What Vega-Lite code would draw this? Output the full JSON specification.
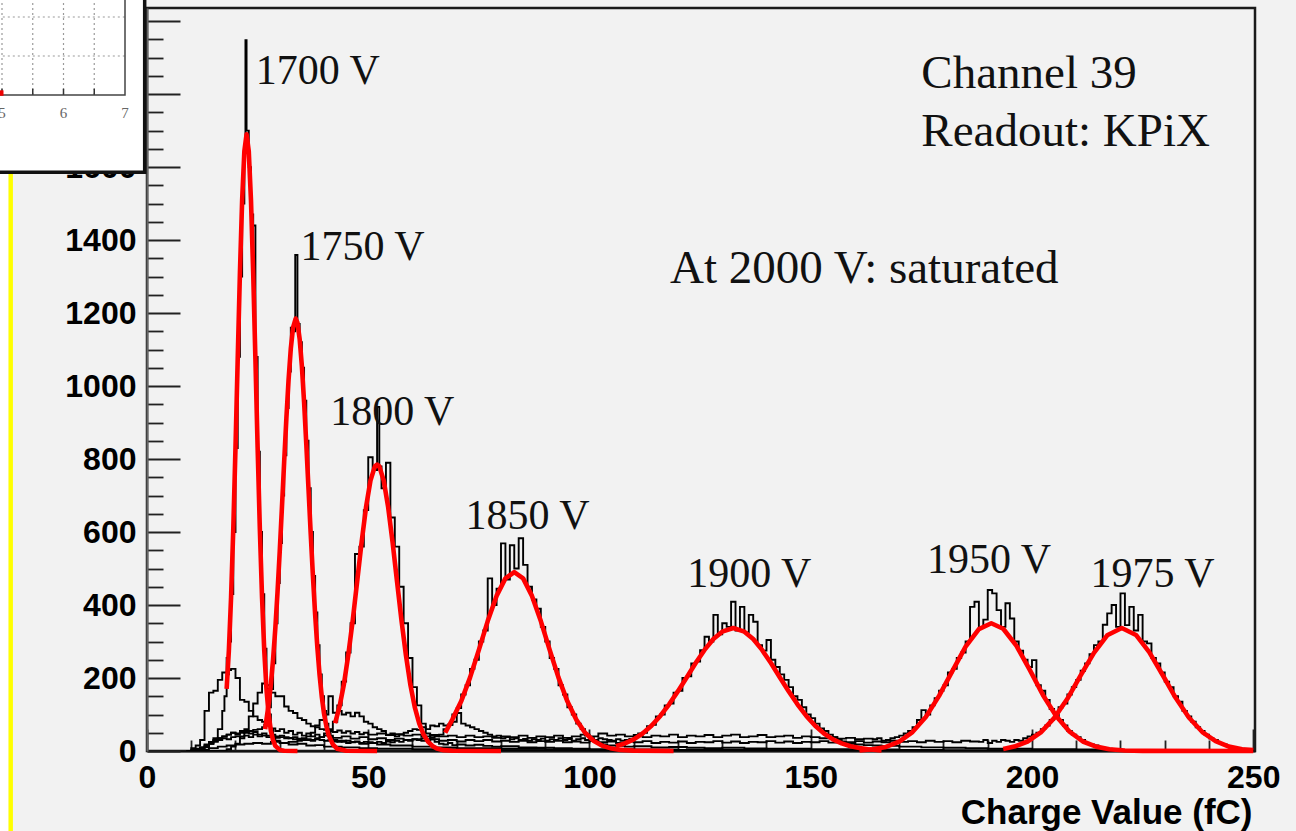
{
  "$schema": "https://vega.github.io/schema/vega-lite/v6.json",
  "width": 1108,
  "height": 743,
  "autosize": {"type": "none"},
  "padding": {"left": 147, "top": 8, "right": 41, "bottom": 80},
  "background": "#f2f2f2",
  "config": {
    "view": {"stroke": "#1a1a1a", "strokeWidth": 2.5, "fill": "#f2f2f2"}
  },
  "datasets": {
    "hist": [
      {"v":1700,"q":9,"n":0},{"v":1700,"q":10,"n":3},{"v":1700,"q":11,"n":6},{"v":1700,"q":12,"n":10},{"v":1700,"q":13,"n":15},{"v":1700,"q":14,"n":25},{"v":1700,"q":15,"n":35},{"v":1700,"q":16,"n":60},{"v":1700,"q":17,"n":110},{"v":1700,"q":17.5,"n":150},{"v":1700,"q":18,"n":210},{"v":1700,"q":18.5,"n":300},{"v":1700,"q":19,"n":430},{"v":1700,"q":19.5,"n":600},{"v":1700,"q":20,"n":830},{"v":1700,"q":20.5,"n":1080},{"v":1700,"q":21,"n":1300},{"v":1700,"q":21.5,"n":1500},{"v":1700,"q":22,"n":1640},{"v":1700,"q":22.25,"n":1948},{"v":1700,"q":22.5,"n":1700},{"v":1700,"q":23,"n":1600},{"v":1700,"q":23.5,"n":1470},{"v":1700,"q":24,"n":1440},{"v":1700,"q":24.5,"n":1080},{"v":1700,"q":25,"n":820},{"v":1700,"q":25.5,"n":600},{"v":1700,"q":26,"n":430},{"v":1700,"q":26.5,"n":280},{"v":1700,"q":27,"n":170},{"v":1700,"q":27.5,"n":100},{"v":1700,"q":28,"n":60},{"v":1700,"q":28.5,"n":40},{"v":1700,"q":29,"n":28},{"v":1700,"q":30,"n":22},{"v":1700,"q":32,"n":18},{"v":1700,"q":34,"n":20},{"v":1700,"q":36,"n":15},{"v":1700,"q":38,"n":16},{"v":1700,"q":40,"n":12},{"v":1700,"q":44,"n":10},{"v":1700,"q":48,"n":8},{"v":1700,"q":52,"n":6},{"v":1700,"q":60,"n":5},{"v":1700,"q":70,"n":3},{"v":1700,"q":80,"n":2},{"v":1700,"q":100,"n":1},{"v":1700,"q":120,"n":0},{"v":1700,"q":250,"n":0},

      {"v":1750,"q":9,"n":0},{"v":1750,"q":11,"n":4},{"v":1750,"q":12,"n":10},{"v":1750,"q":13,"n":18},{"v":1750,"q":14,"n":22},{"v":1750,"q":15,"n":30},{"v":1750,"q":16,"n":35},{"v":1750,"q":17,"n":40},{"v":1750,"q":18,"n":45},{"v":1750,"q":19,"n":50},{"v":1750,"q":20,"n":48},{"v":1750,"q":21,"n":55},{"v":1750,"q":22,"n":50},{"v":1750,"q":23,"n":55},{"v":1750,"q":24,"n":58},{"v":1750,"q":25,"n":60},{"v":1750,"q":26,"n":65},{"v":1750,"q":26.5,"n":72},{"v":1750,"q":27,"n":85},{"v":1750,"q":27.5,"n":120},{"v":1750,"q":28,"n":170},{"v":1750,"q":28.5,"n":240},{"v":1750,"q":29,"n":350},{"v":1750,"q":29.5,"n":460},{"v":1750,"q":30,"n":570},{"v":1750,"q":30.5,"n":700},{"v":1750,"q":31,"n":810},{"v":1750,"q":31.5,"n":940},{"v":1750,"q":32,"n":1040},{"v":1750,"q":32.5,"n":1160},{"v":1750,"q":33,"n":1150},{"v":1750,"q":33.5,"n":1359},{"v":1750,"q":34,"n":1170},{"v":1750,"q":34.5,"n":1120},{"v":1750,"q":35,"n":1050},{"v":1750,"q":35.5,"n":960},{"v":1750,"q":36,"n":850},{"v":1750,"q":36.5,"n":720},{"v":1750,"q":37,"n":600},{"v":1750,"q":37.5,"n":480},{"v":1750,"q":38,"n":380},{"v":1750,"q":38.5,"n":290},{"v":1750,"q":39,"n":210},{"v":1750,"q":39.5,"n":150},{"v":1750,"q":40,"n":110},{"v":1750,"q":40.5,"n":75},{"v":1750,"q":41,"n":50},{"v":1750,"q":41.5,"n":38},{"v":1750,"q":42,"n":30},{"v":1750,"q":43,"n":25},{"v":1750,"q":44,"n":28},{"v":1750,"q":45,"n":22},{"v":1750,"q":46,"n":25},{"v":1750,"q":48,"n":20},{"v":1750,"q":50,"n":22},{"v":1750,"q":52,"n":18},{"v":1750,"q":55,"n":15},{"v":1750,"q":60,"n":12},{"v":1750,"q":65,"n":10},{"v":1750,"q":70,"n":8},{"v":1750,"q":80,"n":6},{"v":1750,"q":90,"n":4},{"v":1750,"q":100,"n":3},{"v":1750,"q":120,"n":2},{"v":1750,"q":140,"n":1},{"v":1750,"q":160,"n":0},{"v":1750,"q":250,"n":0},

      {"v":1800,"q":9,"n":0},{"v":1800,"q":11,"n":2},{"v":1800,"q":12,"n":8},{"v":1800,"q":13,"n":12},{"v":1800,"q":14,"n":20},{"v":1800,"q":15,"n":25},{"v":1800,"q":16,"n":30},{"v":1800,"q":17,"n":35},{"v":1800,"q":18,"n":32},{"v":1800,"q":19,"n":38},{"v":1800,"q":20,"n":40},{"v":1800,"q":21,"n":35},{"v":1800,"q":22,"n":42},{"v":1800,"q":23,"n":38},{"v":1800,"q":24,"n":45},{"v":1800,"q":25,"n":40},{"v":1800,"q":26,"n":42},{"v":1800,"q":27,"n":38},{"v":1800,"q":28,"n":40},{"v":1800,"q":29,"n":36},{"v":1800,"q":30,"n":38},{"v":1800,"q":31,"n":35},{"v":1800,"q":32,"n":36},{"v":1800,"q":33,"n":32},{"v":1800,"q":34,"n":34},{"v":1800,"q":35,"n":30},{"v":1800,"q":36,"n":32},{"v":1800,"q":37,"n":30},{"v":1800,"q":38,"n":35},{"v":1800,"q":39,"n":38},{"v":1800,"q":40,"n":48},{"v":1800,"q":41,"n":60},{"v":1800,"q":42,"n":80},{"v":1800,"q":43,"n":125},{"v":1800,"q":44,"n":190},{"v":1800,"q":45,"n":270},{"v":1800,"q":46,"n":350},{"v":1800,"q":47,"n":540},{"v":1800,"q":48,"n":560},{"v":1800,"q":49,"n":660},{"v":1800,"q":50,"n":805},{"v":1800,"q":51,"n":770},{"v":1800,"q":52,"n":943},{"v":1800,"q":52.5,"n":780},{"v":1800,"q":53,"n":720},{"v":1800,"q":54,"n":790},{"v":1800,"q":55,"n":640},{"v":1800,"q":56,"n":560},{"v":1800,"q":57,"n":450},{"v":1800,"q":58,"n":350},{"v":1800,"q":59,"n":255},{"v":1800,"q":60,"n":175},{"v":1800,"q":61,"n":125},{"v":1800,"q":62,"n":75},{"v":1800,"q":63,"n":48},{"v":1800,"q":64,"n":32},{"v":1800,"q":65,"n":25},{"v":1800,"q":66,"n":20},{"v":1800,"q":67,"n":18},{"v":1800,"q":68,"n":22},{"v":1800,"q":69,"n":16},{"v":1800,"q":70,"n":18},{"v":1800,"q":72,"n":15},{"v":1800,"q":74,"n":17},{"v":1800,"q":76,"n":14},{"v":1800,"q":78,"n":12},{"v":1800,"q":80,"n":13},{"v":1800,"q":84,"n":10},{"v":1800,"q":88,"n":9},{"v":1800,"q":92,"n":8},{"v":1800,"q":96,"n":6},{"v":1800,"q":100,"n":5},{"v":1800,"q":110,"n":4},{"v":1800,"q":120,"n":3},{"v":1800,"q":140,"n":2},{"v":1800,"q":160,"n":1},{"v":1800,"q":180,"n":0},{"v":1800,"q":250,"n":0},

      {"v":1850,"q":9,"n":0},{"v":1850,"q":12,"n":5},{"v":1850,"q":13,"n":10},{"v":1850,"q":14,"n":20},{"v":1850,"q":15,"n":28},{"v":1850,"q":16,"n":35},{"v":1850,"q":17,"n":40},{"v":1850,"q":18,"n":45},{"v":1850,"q":19,"n":50},{"v":1850,"q":20,"n":45},{"v":1850,"q":21,"n":50},{"v":1850,"q":22,"n":55},{"v":1850,"q":23,"n":48},{"v":1850,"q":24,"n":52},{"v":1850,"q":25,"n":45},{"v":1850,"q":26,"n":48},{"v":1850,"q":27,"n":42},{"v":1850,"q":28,"n":45},{"v":1850,"q":29,"n":40},{"v":1850,"q":30,"n":42},{"v":1850,"q":31,"n":38},{"v":1850,"q":32,"n":35},{"v":1850,"q":33,"n":38},{"v":1850,"q":34,"n":32},{"v":1850,"q":35,"n":35},{"v":1850,"q":36,"n":30},{"v":1850,"q":37,"n":28},{"v":1850,"q":38,"n":32},{"v":1850,"q":39,"n":30},{"v":1850,"q":40,"n":28},{"v":1850,"q":41,"n":30},{"v":1850,"q":42,"n":26},{"v":1850,"q":43,"n":28},{"v":1850,"q":44,"n":25},{"v":1850,"q":45,"n":28},{"v":1850,"q":46,"n":24},{"v":1850,"q":47,"n":26},{"v":1850,"q":48,"n":22},{"v":1850,"q":49,"n":25},{"v":1850,"q":50,"n":24},{"v":1850,"q":51,"n":22},{"v":1850,"q":52,"n":25},{"v":1850,"q":53,"n":22},{"v":1850,"q":54,"n":26},{"v":1850,"q":55,"n":24},{"v":1850,"q":56,"n":28},{"v":1850,"q":57,"n":25},{"v":1850,"q":58,"n":30},{"v":1850,"q":59,"n":28},{"v":1850,"q":60,"n":32},{"v":1850,"q":61,"n":30},{"v":1850,"q":62,"n":35},{"v":1850,"q":63,"n":32},{"v":1850,"q":64,"n":38},{"v":1850,"q":65,"n":40},{"v":1850,"q":66,"n":45},{"v":1850,"q":67,"n":60},{"v":1850,"q":68,"n":72},{"v":1850,"q":69,"n":100},{"v":1850,"q":70,"n":118},{"v":1850,"q":71,"n":155},{"v":1850,"q":72,"n":180},{"v":1850,"q":73,"n":225},{"v":1850,"q":74,"n":250},{"v":1850,"q":75,"n":300},{"v":1850,"q":76,"n":330},{"v":1850,"q":77,"n":473},{"v":1850,"q":78,"n":400},{"v":1850,"q":79,"n":445},{"v":1850,"q":80,"n":569},{"v":1850,"q":81,"n":470},{"v":1850,"q":82,"n":564},{"v":1850,"q":83,"n":500},{"v":1850,"q":84,"n":583},{"v":1850,"q":85,"n":510},{"v":1850,"q":86,"n":450},{"v":1850,"q":87,"n":415},{"v":1850,"q":88,"n":390},{"v":1850,"q":89,"n":340},{"v":1850,"q":90,"n":300},{"v":1850,"q":91,"n":255},{"v":1850,"q":92,"n":225},{"v":1850,"q":93,"n":180},{"v":1850,"q":94,"n":155},{"v":1850,"q":95,"n":120},{"v":1850,"q":96,"n":100},{"v":1850,"q":97,"n":75},{"v":1850,"q":98,"n":60},{"v":1850,"q":99,"n":42},{"v":1850,"q":100,"n":35},{"v":1850,"q":101,"n":25},{"v":1850,"q":102,"n":20},{"v":1850,"q":103,"n":18},{"v":1850,"q":104,"n":15},{"v":1850,"q":106,"n":14},{"v":1850,"q":108,"n":12},{"v":1850,"q":110,"n":13},{"v":1850,"q":114,"n":10},{"v":1850,"q":118,"n":11},{"v":1850,"q":122,"n":9},{"v":1850,"q":126,"n":8},{"v":1850,"q":130,"n":9},{"v":1850,"q":135,"n":7},{"v":1850,"q":140,"n":6},{"v":1850,"q":150,"n":5},{"v":1850,"q":160,"n":4},{"v":1850,"q":170,"n":3},{"v":1850,"q":180,"n":2},{"v":1850,"q":200,"n":1},{"v":1850,"q":220,"n":0},{"v":1850,"q":250,"n":0},

      {"v":1900,"q":9,"n":0},{"v":1900,"q":12,"n":3},{"v":1900,"q":14,"n":8},{"v":1900,"q":16,"n":12},{"v":1900,"q":18,"n":15},{"v":1900,"q":20,"n":18},{"v":1900,"q":22,"n":20},{"v":1900,"q":24,"n":22},{"v":1900,"q":26,"n":20},{"v":1900,"q":28,"n":25},{"v":1900,"q":30,"n":22},{"v":1900,"q":32,"n":25},{"v":1900,"q":34,"n":28},{"v":1900,"q":35,"n":32},{"v":1900,"q":36,"n":40},{"v":1900,"q":37,"n":50},{"v":1900,"q":38,"n":70},{"v":1900,"q":39,"n":85},{"v":1900,"q":40,"n":100},{"v":1900,"q":41,"n":150},{"v":1900,"q":42,"n":105},{"v":1900,"q":43,"n":110},{"v":1900,"q":44,"n":100},{"v":1900,"q":45,"n":105},{"v":1900,"q":46,"n":95},{"v":1900,"q":47,"n":105},{"v":1900,"q":48,"n":95},{"v":1900,"q":49,"n":80},{"v":1900,"q":50,"n":75},{"v":1900,"q":51,"n":65},{"v":1900,"q":52,"n":60},{"v":1900,"q":53,"n":55},{"v":1900,"q":54,"n":45},{"v":1900,"q":55,"n":48},{"v":1900,"q":56,"n":40},{"v":1900,"q":57,"n":45},{"v":1900,"q":58,"n":50},{"v":1900,"q":59,"n":55},{"v":1900,"q":60,"n":60},{"v":1900,"q":61,"n":58},{"v":1900,"q":62,"n":65},{"v":1900,"q":63,"n":60},{"v":1900,"q":64,"n":70},{"v":1900,"q":65,"n":68},{"v":1900,"q":66,"n":75},{"v":1900,"q":67,"n":70},{"v":1900,"q":68,"n":72},{"v":1900,"q":69,"n":80},{"v":1900,"q":70,"n":104},{"v":1900,"q":71,"n":75},{"v":1900,"q":72,"n":70},{"v":1900,"q":73,"n":65},{"v":1900,"q":74,"n":60},{"v":1900,"q":75,"n":55},{"v":1900,"q":76,"n":50},{"v":1900,"q":77,"n":45},{"v":1900,"q":78,"n":40},{"v":1900,"q":79,"n":42},{"v":1900,"q":80,"n":35},{"v":1900,"q":81,"n":38},{"v":1900,"q":82,"n":32},{"v":1900,"q":83,"n":35},{"v":1900,"q":84,"n":30},{"v":1900,"q":85,"n":33},{"v":1900,"q":86,"n":28},{"v":1900,"q":87,"n":32},{"v":1900,"q":88,"n":30},{"v":1900,"q":89,"n":34},{"v":1900,"q":90,"n":28},{"v":1900,"q":91,"n":32},{"v":1900,"q":92,"n":30},{"v":1900,"q":93,"n":35},{"v":1900,"q":94,"n":30},{"v":1900,"q":95,"n":33},{"v":1900,"q":96,"n":28},{"v":1900,"q":97,"n":32},{"v":1900,"q":98,"n":35},{"v":1900,"q":99,"n":30},{"v":1900,"q":100,"n":34},{"v":1900,"q":101,"n":30},{"v":1900,"q":102,"n":35},{"v":1900,"q":103,"n":32},{"v":1900,"q":104,"n":30},{"v":1900,"q":105,"n":28},{"v":1900,"q":106,"n":32},{"v":1900,"q":107,"n":28},{"v":1900,"q":108,"n":30},{"v":1900,"q":109,"n":33},{"v":1900,"q":110,"n":38},{"v":1900,"q":111,"n":48},{"v":1900,"q":112,"n":50},{"v":1900,"q":113,"n":68},{"v":1900,"q":114,"n":72},{"v":1900,"q":115,"n":95},{"v":1900,"q":116,"n":100},{"v":1900,"q":117,"n":125},{"v":1900,"q":118,"n":130},{"v":1900,"q":119,"n":160},{"v":1900,"q":120,"n":165},{"v":1900,"q":121,"n":200},{"v":1900,"q":122,"n":205},{"v":1900,"q":123,"n":240},{"v":1900,"q":124,"n":245},{"v":1900,"q":125,"n":276},{"v":1900,"q":126,"n":313},{"v":1900,"q":127,"n":300},{"v":1900,"q":128,"n":373},{"v":1900,"q":129,"n":320},{"v":1900,"q":130,"n":350},{"v":1900,"q":131,"n":340},{"v":1900,"q":132,"n":409},{"v":1900,"q":133,"n":330},{"v":1900,"q":134,"n":395},{"v":1900,"q":135,"n":325},{"v":1900,"q":136,"n":373},{"v":1900,"q":137,"n":354},{"v":1900,"q":138,"n":290},{"v":1900,"q":139,"n":275},{"v":1900,"q":140,"n":304},{"v":1900,"q":141,"n":250},{"v":1900,"q":142,"n":230},{"v":1900,"q":143,"n":210},{"v":1900,"q":144,"n":195},{"v":1900,"q":145,"n":175},{"v":1900,"q":146,"n":150},{"v":1900,"q":147,"n":140},{"v":1900,"q":148,"n":120},{"v":1900,"q":149,"n":100},{"v":1900,"q":150,"n":90},{"v":1900,"q":151,"n":75},{"v":1900,"q":152,"n":62},{"v":1900,"q":153,"n":55},{"v":1900,"q":154,"n":45},{"v":1900,"q":155,"n":38},{"v":1900,"q":156,"n":30},{"v":1900,"q":157,"n":25},{"v":1900,"q":158,"n":22},{"v":1900,"q":159,"n":20},{"v":1900,"q":160,"n":18},{"v":1900,"q":162,"n":16},{"v":1900,"q":164,"n":15},{"v":1900,"q":166,"n":14},{"v":1900,"q":170,"n":12},{"v":1900,"q":175,"n":10},{"v":1900,"q":180,"n":9},{"v":1900,"q":185,"n":8},{"v":1900,"q":190,"n":6},{"v":1900,"q":200,"n":5},{"v":1900,"q":210,"n":4},{"v":1900,"q":220,"n":3},{"v":1900,"q":230,"n":2},{"v":1900,"q":240,"n":1},{"v":1900,"q":250,"n":1},

      {"v":1950,"q":9,"n":0},{"v":1950,"q":18,"n":5},{"v":1950,"q":19,"n":12},{"v":1950,"q":20,"n":20},{"v":1950,"q":21,"n":40},{"v":1950,"q":22,"n":60},{"v":1950,"q":23,"n":95},{"v":1950,"q":24,"n":130},{"v":1950,"q":25,"n":160},{"v":1950,"q":26,"n":185},{"v":1950,"q":27,"n":180},{"v":1950,"q":28,"n":160},{"v":1950,"q":29,"n":150},{"v":1950,"q":30,"n":150},{"v":1950,"q":31,"n":122},{"v":1950,"q":32,"n":110},{"v":1950,"q":33,"n":104},{"v":1950,"q":34,"n":90},{"v":1950,"q":35,"n":85},{"v":1950,"q":36,"n":75},{"v":1950,"q":37,"n":68},{"v":1950,"q":38,"n":65},{"v":1950,"q":39,"n":60},{"v":1950,"q":40,"n":58},{"v":1950,"q":41,"n":55},{"v":1950,"q":42,"n":52},{"v":1950,"q":43,"n":56},{"v":1950,"q":44,"n":50},{"v":1950,"q":45,"n":54},{"v":1950,"q":46,"n":48},{"v":1950,"q":47,"n":52},{"v":1950,"q":48,"n":46},{"v":1950,"q":49,"n":50},{"v":1950,"q":50,"n":45},{"v":1950,"q":52,"n":48},{"v":1950,"q":54,"n":44},{"v":1950,"q":56,"n":46},{"v":1950,"q":58,"n":42},{"v":1950,"q":60,"n":45},{"v":1950,"q":62,"n":40},{"v":1950,"q":64,"n":44},{"v":1950,"q":66,"n":40},{"v":1950,"q":68,"n":42},{"v":1950,"q":70,"n":38},{"v":1950,"q":72,"n":42},{"v":1950,"q":74,"n":38},{"v":1950,"q":76,"n":40},{"v":1950,"q":78,"n":36},{"v":1950,"q":80,"n":40},{"v":1950,"q":82,"n":38},{"v":1950,"q":84,"n":42},{"v":1950,"q":86,"n":36},{"v":1950,"q":88,"n":40},{"v":1950,"q":90,"n":38},{"v":1950,"q":92,"n":42},{"v":1950,"q":94,"n":36},{"v":1950,"q":96,"n":40},{"v":1950,"q":98,"n":45},{"v":1950,"q":100,"n":40},{"v":1950,"q":102,"n":48},{"v":1950,"q":104,"n":42},{"v":1950,"q":106,"n":45},{"v":1950,"q":108,"n":40},{"v":1950,"q":110,"n":44},{"v":1950,"q":112,"n":38},{"v":1950,"q":114,"n":42},{"v":1950,"q":116,"n":40},{"v":1950,"q":118,"n":45},{"v":1950,"q":120,"n":38},{"v":1950,"q":122,"n":42},{"v":1950,"q":124,"n":40},{"v":1950,"q":126,"n":44},{"v":1950,"q":128,"n":38},{"v":1950,"q":130,"n":42},{"v":1950,"q":132,"n":45},{"v":1950,"q":134,"n":38},{"v":1950,"q":136,"n":40},{"v":1950,"q":138,"n":44},{"v":1950,"q":140,"n":38},{"v":1950,"q":142,"n":40},{"v":1950,"q":144,"n":42},{"v":1950,"q":146,"n":36},{"v":1950,"q":148,"n":40},{"v":1950,"q":150,"n":38},{"v":1950,"q":152,"n":35},{"v":1950,"q":154,"n":38},{"v":1950,"q":156,"n":34},{"v":1950,"q":158,"n":36},{"v":1950,"q":160,"n":32},{"v":1950,"q":162,"n":34},{"v":1950,"q":164,"n":32},{"v":1950,"q":165,"n":35},{"v":1950,"q":166,"n":28},{"v":1950,"q":167,"n":30},{"v":1950,"q":168,"n":35},{"v":1950,"q":169,"n":38},{"v":1950,"q":170,"n":42},{"v":1950,"q":171,"n":48},{"v":1950,"q":172,"n":55},{"v":1950,"q":173,"n":65},{"v":1950,"q":174,"n":85},{"v":1950,"q":175,"n":112},{"v":1950,"q":176,"n":100},{"v":1950,"q":177,"n":125},{"v":1950,"q":178,"n":145},{"v":1950,"q":179,"n":165},{"v":1950,"q":180,"n":180},{"v":1950,"q":181,"n":215},{"v":1950,"q":182,"n":225},{"v":1950,"q":183,"n":255},{"v":1950,"q":184,"n":270},{"v":1950,"q":185,"n":300},{"v":1950,"q":186,"n":395},{"v":1950,"q":187,"n":409},{"v":1950,"q":188,"n":340},{"v":1950,"q":189,"n":360},{"v":1950,"q":190,"n":441},{"v":1950,"q":191,"n":432},{"v":1950,"q":192,"n":386},{"v":1950,"q":193,"n":340},{"v":1950,"q":194,"n":405},{"v":1950,"q":195,"n":363},{"v":1950,"q":196,"n":300},{"v":1950,"q":197,"n":275},{"v":1950,"q":198,"n":250},{"v":1950,"q":199,"n":230},{"v":1950,"q":200,"n":249},{"v":1950,"q":201,"n":180},{"v":1950,"q":202,"n":165},{"v":1950,"q":203,"n":140},{"v":1950,"q":204,"n":115},{"v":1950,"q":205,"n":100},{"v":1950,"q":206,"n":85},{"v":1950,"q":207,"n":70},{"v":1950,"q":208,"n":55},{"v":1950,"q":209,"n":45},{"v":1950,"q":210,"n":38},{"v":1950,"q":211,"n":30},{"v":1950,"q":212,"n":22},{"v":1950,"q":213,"n":18},{"v":1950,"q":214,"n":15},{"v":1950,"q":215,"n":10},{"v":1950,"q":216,"n":8},{"v":1950,"q":217,"n":6},{"v":1950,"q":218,"n":4},{"v":1950,"q":220,"n":3},{"v":1950,"q":222,"n":2},{"v":1950,"q":225,"n":1},{"v":1950,"q":230,"n":0},{"v":1950,"q":250,"n":0},

      {"v":1975,"q":9,"n":0},{"v":1975,"q":10,"n":8},{"v":1975,"q":11,"n":15},{"v":1975,"q":12,"n":30},{"v":1975,"q":13,"n":110},{"v":1975,"q":14,"n":160},{"v":1975,"q":15,"n":165},{"v":1975,"q":16,"n":195},{"v":1975,"q":17,"n":215},{"v":1975,"q":18,"n":255},{"v":1975,"q":18.5,"n":222},{"v":1975,"q":19,"n":225},{"v":1975,"q":20,"n":200},{"v":1975,"q":21,"n":140},{"v":1975,"q":22,"n":135},{"v":1975,"q":23,"n":110},{"v":1975,"q":24,"n":95},{"v":1975,"q":25,"n":85},{"v":1975,"q":26,"n":80},{"v":1975,"q":27,"n":70},{"v":1975,"q":28,"n":62},{"v":1975,"q":29,"n":55},{"v":1975,"q":30,"n":60},{"v":1975,"q":31,"n":50},{"v":1975,"q":32,"n":55},{"v":1975,"q":33,"n":45},{"v":1975,"q":34,"n":50},{"v":1975,"q":35,"n":42},{"v":1975,"q":36,"n":48},{"v":1975,"q":37,"n":40},{"v":1975,"q":38,"n":45},{"v":1975,"q":39,"n":38},{"v":1975,"q":40,"n":42},{"v":1975,"q":42,"n":36},{"v":1975,"q":44,"n":40},{"v":1975,"q":46,"n":34},{"v":1975,"q":48,"n":38},{"v":1975,"q":50,"n":32},{"v":1975,"q":52,"n":35},{"v":1975,"q":54,"n":30},{"v":1975,"q":56,"n":34},{"v":1975,"q":58,"n":30},{"v":1975,"q":60,"n":32},{"v":1975,"q":62,"n":28},{"v":1975,"q":64,"n":32},{"v":1975,"q":66,"n":28},{"v":1975,"q":68,"n":30},{"v":1975,"q":70,"n":26},{"v":1975,"q":72,"n":30},{"v":1975,"q":74,"n":27},{"v":1975,"q":76,"n":30},{"v":1975,"q":78,"n":26},{"v":1975,"q":80,"n":28},{"v":1975,"q":82,"n":25},{"v":1975,"q":84,"n":28},{"v":1975,"q":86,"n":24},{"v":1975,"q":88,"n":27},{"v":1975,"q":90,"n":25},{"v":1975,"q":92,"n":28},{"v":1975,"q":94,"n":24},{"v":1975,"q":96,"n":26},{"v":1975,"q":98,"n":23},{"v":1975,"q":100,"n":27},{"v":1975,"q":102,"n":24},{"v":1975,"q":104,"n":26},{"v":1975,"q":106,"n":22},{"v":1975,"q":108,"n":26},{"v":1975,"q":110,"n":24},{"v":1975,"q":112,"n":27},{"v":1975,"q":114,"n":22},{"v":1975,"q":116,"n":25},{"v":1975,"q":118,"n":23},{"v":1975,"q":120,"n":26},{"v":1975,"q":122,"n":22},{"v":1975,"q":124,"n":25},{"v":1975,"q":126,"n":24},{"v":1975,"q":128,"n":27},{"v":1975,"q":130,"n":23},{"v":1975,"q":132,"n":26},{"v":1975,"q":134,"n":22},{"v":1975,"q":136,"n":25},{"v":1975,"q":138,"n":24},{"v":1975,"q":140,"n":27},{"v":1975,"q":142,"n":23},{"v":1975,"q":144,"n":26},{"v":1975,"q":146,"n":22},{"v":1975,"q":148,"n":25},{"v":1975,"q":150,"n":24},{"v":1975,"q":152,"n":27},{"v":1975,"q":154,"n":23},{"v":1975,"q":156,"n":26},{"v":1975,"q":158,"n":24},{"v":1975,"q":160,"n":27},{"v":1975,"q":162,"n":23},{"v":1975,"q":164,"n":26},{"v":1975,"q":166,"n":24},{"v":1975,"q":168,"n":28},{"v":1975,"q":170,"n":25},{"v":1975,"q":172,"n":27},{"v":1975,"q":174,"n":24},{"v":1975,"q":176,"n":28},{"v":1975,"q":178,"n":25},{"v":1975,"q":180,"n":27},{"v":1975,"q":182,"n":24},{"v":1975,"q":184,"n":28},{"v":1975,"q":186,"n":26},{"v":1975,"q":188,"n":25},{"v":1975,"q":189,"n":30},{"v":1975,"q":190,"n":22},{"v":1975,"q":191,"n":28},{"v":1975,"q":192,"n":25},{"v":1975,"q":193,"n":30},{"v":1975,"q":194,"n":28},{"v":1975,"q":195,"n":25},{"v":1975,"q":196,"n":30},{"v":1975,"q":197,"n":28},{"v":1975,"q":198,"n":35},{"v":1975,"q":199,"n":40},{"v":1975,"q":200,"n":45},{"v":1975,"q":201,"n":50},{"v":1975,"q":202,"n":60},{"v":1975,"q":203,"n":70},{"v":1975,"q":204,"n":85},{"v":1975,"q":205,"n":95},{"v":1975,"q":206,"n":120},{"v":1975,"q":207,"n":130},{"v":1975,"q":208,"n":155},{"v":1975,"q":209,"n":175},{"v":1975,"q":210,"n":195},{"v":1975,"q":211,"n":220},{"v":1975,"q":212,"n":240},{"v":1975,"q":213,"n":265},{"v":1975,"q":214,"n":290},{"v":1975,"q":215,"n":300},{"v":1975,"q":216,"n":346},{"v":1975,"q":217,"n":377},{"v":1975,"q":218,"n":400},{"v":1975,"q":219,"n":340},{"v":1975,"q":220,"n":432},{"v":1975,"q":221,"n":345},{"v":1975,"q":222,"n":395},{"v":1975,"q":223,"n":330},{"v":1975,"q":224,"n":373},{"v":1975,"q":225,"n":300},{"v":1975,"q":226,"n":295},{"v":1975,"q":227,"n":255},{"v":1975,"q":228,"n":240},{"v":1975,"q":229,"n":215},{"v":1975,"q":230,"n":190},{"v":1975,"q":231,"n":175},{"v":1975,"q":232,"n":150},{"v":1975,"q":233,"n":135},{"v":1975,"q":234,"n":110},{"v":1975,"q":235,"n":95},{"v":1975,"q":236,"n":80},{"v":1975,"q":237,"n":65},{"v":1975,"q":238,"n":55},{"v":1975,"q":239,"n":45},{"v":1975,"q":240,"n":35},{"v":1975,"q":241,"n":30},{"v":1975,"q":242,"n":22},{"v":1975,"q":243,"n":18},{"v":1975,"q":244,"n":14},{"v":1975,"q":245,"n":10},{"v":1975,"q":246,"n":8},{"v":1975,"q":247,"n":6},{"v":1975,"q":248,"n":5},{"v":1975,"q":249,"n":4},{"v":1975,"q":250,"n":4}
    ],
    "fit": [
      {"v":1700,"q":18,"n":170},{"v":1700,"q":18.5,"n":275},{"v":1700,"q":19,"n":421},{"v":1700,"q":19.5,"n":609},{"v":1700,"q":20,"n":832},{"v":1700,"q":20.5,"n":1074},{"v":1700,"q":21,"n":1310},{"v":1700,"q":21.5,"n":1509},{"v":1700,"q":22,"n":1643},{"v":1700,"q":22.5,"n":1690},{"v":1700,"q":23,"n":1643},{"v":1700,"q":23.5,"n":1509},{"v":1700,"q":24,"n":1310},{"v":1700,"q":24.5,"n":1074},{"v":1700,"q":25,"n":832},{"v":1700,"q":25.5,"n":609},{"v":1700,"q":26,"n":421},{"v":1700,"q":26.5,"n":275},{"v":1700,"q":27,"n":170},{"v":1700,"q":27.5,"n":99},{"v":1700,"q":28,"n":55},{"v":1700,"q":28.5,"n":29},{"v":1700,"q":29,"n":14},{"v":1700,"q":30,"n":3},{"v":1700,"q":31,"n":0.5},{"v":1700,"q":34,"n":0},
      {"v":1750,"q":26.7,"n":60},{"v":1750,"q":27.5,"n":129},{"v":1750,"q":28,"n":183},{"v":1750,"q":28.5,"n":252},{"v":1750,"q":29,"n":336},{"v":1750,"q":29.5,"n":436},{"v":1750,"q":30,"n":548},{"v":1750,"q":30.5,"n":669},{"v":1750,"q":31,"n":793},{"v":1750,"q":31.5,"n":912},{"v":1750,"q":32,"n":1018},{"v":1750,"q":32.5,"n":1103},{"v":1750,"q":33,"n":1160},{"v":1750,"q":33.6,"n":1185},{"v":1750,"q":34,"n":1174},{"v":1750,"q":34.5,"n":1129},{"v":1750,"q":35,"n":1055},{"v":1750,"q":35.5,"n":956},{"v":1750,"q":36,"n":841},{"v":1750,"q":36.5,"n":718},{"v":1750,"q":37,"n":595},{"v":1750,"q":37.5,"n":479},{"v":1750,"q":38,"n":374},{"v":1750,"q":38.5,"n":284},{"v":1750,"q":39,"n":209},{"v":1750,"q":39.5,"n":149},{"v":1750,"q":40,"n":103},{"v":1750,"q":40.5,"n":70},{"v":1750,"q":41,"n":45},{"v":1750,"q":42,"n":18},{"v":1750,"q":43,"n":6},{"v":1750,"q":45,"n":0.5},{"v":1750,"q":52,"n":0},
      {"v":1800,"q":42.5,"n":76},{"v":1800,"q":43.5,"n":121},{"v":1800,"q":44.5,"n":183},{"v":1800,"q":45.5,"n":264},{"v":1800,"q":46.5,"n":359},{"v":1800,"q":47.5,"n":465},{"v":1800,"q":48.5,"n":572},{"v":1800,"q":49.5,"n":668},{"v":1800,"q":50.5,"n":741},{"v":1800,"q":51.5,"n":780},{"v":1800,"q":52,"n":785},{"v":1800,"q":52.5,"n":780},{"v":1800,"q":53.5,"n":741},{"v":1800,"q":54.5,"n":668},{"v":1800,"q":55.5,"n":572},{"v":1800,"q":56.5,"n":465},{"v":1800,"q":57.5,"n":359},{"v":1800,"q":58.5,"n":264},{"v":1800,"q":59.5,"n":183},{"v":1800,"q":60.5,"n":121},{"v":1800,"q":61.5,"n":76},{"v":1800,"q":62.5,"n":45},{"v":1800,"q":63.5,"n":26},{"v":1800,"q":64.5,"n":14},{"v":1800,"q":65.5,"n":7},{"v":1800,"q":67,"n":2.3},{"v":1800,"q":69,"n":0.5},{"v":1800,"q":80,"n":0},
      {"v":1850,"q":67.4,"n":50},{"v":1850,"q":69,"n":86},{"v":1850,"q":71,"n":136},{"v":1850,"q":73,"n":201},{"v":1850,"q":75,"n":277},{"v":1850,"q":77,"n":356},{"v":1850,"q":79,"n":425},{"v":1850,"q":81,"n":473},{"v":1850,"q":83,"n":490},{"v":1850,"q":85,"n":473},{"v":1850,"q":87,"n":425},{"v":1850,"q":89,"n":356},{"v":1850,"q":91,"n":277},{"v":1850,"q":93,"n":201},{"v":1850,"q":95,"n":136},{"v":1850,"q":97,"n":86},{"v":1850,"q":99,"n":50},{"v":1850,"q":101,"n":27.5},{"v":1850,"q":103,"n":14},{"v":1850,"q":105,"n":6.6},{"v":1850,"q":107,"n":3},{"v":1850,"q":110,"n":1},{"v":1850,"q":119,"n":0},
      {"v":1900,"q":106,"n":13},{"v":1900,"q":108,"n":21},{"v":1900,"q":110,"n":32},{"v":1900,"q":112,"n":48},{"v":1900,"q":114,"n":69},{"v":1900,"q":116,"n":96},{"v":1900,"q":118,"n":128},{"v":1900,"q":120,"n":164},{"v":1900,"q":122,"n":202},{"v":1900,"q":124,"n":241},{"v":1900,"q":126,"n":277},{"v":1900,"q":128,"n":307},{"v":1900,"q":130,"n":327},{"v":1900,"q":132.5,"n":337},{"v":1900,"q":135,"n":327},{"v":1900,"q":137,"n":307},{"v":1900,"q":139,"n":277},{"v":1900,"q":141,"n":241},{"v":1900,"q":143,"n":202},{"v":1900,"q":145,"n":164},{"v":1900,"q":147,"n":128},{"v":1900,"q":149,"n":96},{"v":1900,"q":151,"n":69},{"v":1900,"q":153,"n":48},{"v":1900,"q":155,"n":32},{"v":1900,"q":157,"n":21},{"v":1900,"q":159,"n":13},{"v":1900,"q":161,"n":8},{"v":1900,"q":163,"n":4.6},{"v":1900,"q":166,"n":1.5},
      {"v":1950,"q":161,"n":1.6},{"v":1950,"q":164,"n":4.6},{"v":1950,"q":167,"n":11},{"v":1950,"q":170,"n":26},{"v":1950,"q":173,"n":52},{"v":1950,"q":176,"n":93},{"v":1950,"q":179,"n":151},{"v":1950,"q":182,"n":219},{"v":1950,"q":185,"n":286},{"v":1950,"q":188,"n":334},{"v":1950,"q":190.8,"n":350},{"v":1950,"q":193.5,"n":335},{"v":1950,"q":196.5,"n":288},{"v":1950,"q":199.5,"n":222},{"v":1950,"q":202.5,"n":153},{"v":1950,"q":205.5,"n":95},{"v":1950,"q":208.5,"n":53},{"v":1950,"q":211.5,"n":26},{"v":1950,"q":214.5,"n":12},{"v":1950,"q":217.5,"n":4.7},{"v":1950,"q":221,"n":1.4},{"v":1950,"q":225,"n":0.3},{"v":1950,"q":250,"n":0},
      {"v":1975,"q":193.5,"n":5.8},{"v":1975,"q":196,"n":12},{"v":1975,"q":199,"n":26},{"v":1975,"q":202,"n":51},{"v":1975,"q":205,"n":90},{"v":1975,"q":208,"n":143},{"v":1975,"q":211,"n":207},{"v":1975,"q":214,"n":269},{"v":1975,"q":217,"n":317},{"v":1975,"q":220.3,"n":337},{"v":1975,"q":223.5,"n":318},{"v":1975,"q":226.5,"n":271},{"v":1975,"q":229.5,"n":209},{"v":1975,"q":232.5,"n":145},{"v":1975,"q":235.5,"n":91},{"v":1975,"q":238.5,"n":52},{"v":1975,"q":241.5,"n":27},{"v":1975,"q":244.5,"n":12},{"v":1975,"q":247.5,"n":5},{"v":1975,"q":250,"n":2.3}
    ],
    "peakLabels": [
      {"q":24.6,"n":1829,"label":"1700 V"},
      {"q":34.7,"n":1345,"label":"1750 V"},
      {"q":41.4,"n":893,"label":"1800 V"},
      {"q":72.0,"n":608,"label":"1850 V"},
      {"q":122.1,"n":450,"label":"1900 V"},
      {"q":176.3,"n":487,"label":"1950 V"},
      {"q":213.2,"n":450,"label":"1975 V"}
    ],
    "notes": [
      {"q":175.0,"n":1816,"label":"Channel 39"},
      {"q":175.0,"n":1658,"label":"Readout: KPiX"},
      {"q":118.2,"n":1282,"label":"At 2000 V: saturated"}
    ],
    "edge": [
      {"part":"paper","q":-36,"q2":-31.3,"n":-240,"n2":1588},
      {"part":"marker","q":-31.3,"q2":-30.3,"n":-240,"n2":1588}
    ],
    "insetBox": [{"x":4.2,"x2":7.32,"y":-1.98,"y2":3.6}],
    "insetFrame": [{"x":4.2,"x2":7.0,"y":0,"y2":3.6}],
    "insetGridV": [{"x":5.0},{"x":5.5},{"x":6.0},{"x":6.5}],
    "insetGridH": [{"y":1},{"y":2}],
    "insetLabels": [{"x":5,"t":"5"},{"x":6,"t":"6"},{"x":7,"t":"7"}],
    "insetDot": [{"x":4.98,"y":0.05}]
  },
  "layer": [
    {
      "encoding": {
        "x": {
          "field": "q", "type": "quantitative",
          "scale": {"domain": [0, 250.4], "nice": false, "zero": false},
          "axis": {
            "values": [0,10,20,30,40,50,60,70,80,90,100,110,120,130,140,150,160,170,180,190,200,210,220,230,240,250],
            "labelExpr": "datum.value % 50 === 0 ? datum.label : ''",
            "tickSize": {"condition": {"test": "datum.value % 50 === 0", "value": -22}, "value": -11},
            "tickColor": "#222", "tickWidth": 1.8,
            "domainColor": "#111", "domainWidth": 2,
            "grid": false,
            "labelFont": "Liberation Sans", "labelFontWeight": "bold", "labelFontSize": 32, "labelColor": "#000",
            "labelPadding": 33, "labelOverlap": false, "labelFlush": false, "labelBound": false,
            "title": "Charge Value (fC)",
            "titleFont": "Liberation Sans", "titleFontWeight": "bold", "titleFontSize": 35, "titleColor": "#000",
            "titleAlign": "right", "titleAnchor": "end", "titleBaseline": "alphabetic",
            "titleX": 1105, "titleY": 72
          }
        },
        "y": {
          "field": "n", "type": "quantitative",
          "scale": {"domain": [0, 2036], "nice": false},
          "axis": {
            "values": [0,50,100,150,200,250,300,350,400,450,500,550,600,650,700,750,800,850,900,950,1000,1050,1100,1150,1200,1250,1300,1350,1400,1450,1500,1550,1600,1650,1700,1750,1800,1850,1900,1950,2000],
            "format": "d",
            "labelExpr": "datum.value % 200 === 0 && datum.value <= 1600 ? datum.label : ''",
            "tickSize": {"condition": {"test": "datum.value % 200 === 0", "value": -33}, "value": -16},
            "tickColor": "#222", "tickWidth": 1.8,
            "domainColor": "#666", "domainWidth": 2,
            "grid": false,
            "labelFont": "Liberation Sans", "labelFontWeight": "bold", "labelFontSize": 32, "labelColor": "#000",
            "labelPadding": 44, "labelOverlap": false, "labelFlush": false, "labelBound": false,
            "title": null
          }
        }
      },
      "layer": [
        {
          "data": {"name": "edge"},
          "mark": {"type": "rect", "clip": false},
          "encoding": {
            "x2": {"field": "q2"},
            "y2": {"field": "n2"},
            "color": {"field": "part", "type": "nominal", "scale": {"domain": ["paper", "marker"], "range": ["#ffffff", "#ffff00"]}, "legend": null}
          }
        },
        {
          "data": {"name": "hist"},
          "mark": {"type": "line", "interpolate": "step-after", "stroke": "#000000", "strokeWidth": 1.9, "clip": true},
          "encoding": {"detail": {"field": "v", "type": "nominal"}}
        },
        {
          "data": {"name": "fit"},
          "mark": {"type": "line", "stroke": "#ff0000", "strokeWidth": 4.6, "strokeJoin": "round", "clip": false},
          "encoding": {"detail": {"field": "v", "type": "nominal"}}
        },
        {
          "data": {"name": "peakLabels"},
          "mark": {"type": "text", "font": "Liberation Serif", "fontSize": 42, "align": "left", "baseline": "alphabetic", "fill": "#111111"},
          "encoding": {"text": {"field": "label"}}
        },
        {
          "data": {"name": "notes"},
          "mark": {"type": "text", "font": "Liberation Serif", "fontSize": 47, "align": "left", "baseline": "alphabetic", "fill": "#111111"},
          "encoding": {"text": {"field": "label"}}
        }
      ]
    },
    {
      "layer": [
        {
          "data": {"name": "insetBox"},
          "mark": {"type": "rect", "fill": "#ffffff", "stroke": "#111111", "strokeWidth": 3.5, "clip": false},
          "encoding": {
            "x": {"field": "x", "type": "quantitative", "scale": {"domain": [5, 7], "range": [-145, -22]}, "axis": null},
            "x2": {"field": "x2"},
            "y": {"field": "y", "type": "quantitative", "scale": {"domain": [0, 3], "range": [87, -30]}, "axis": null},
            "y2": {"field": "y2"}
          }
        },
        {
          "data": {"name": "insetGridV"},
          "mark": {"type": "rule", "stroke": "#9a9a9a", "strokeWidth": 1.2, "strokeDash": [2, 3]},
          "encoding": {
            "x": {"field": "x", "type": "quantitative"},
            "y": {"datum": 0, "type": "quantitative"},
            "y2": {"datum": 3.6}
          }
        },
        {
          "data": {"name": "insetGridH"},
          "mark": {"type": "rule", "stroke": "#9a9a9a", "strokeWidth": 1.2, "strokeDash": [2, 3]},
          "encoding": {
            "y": {"field": "y", "type": "quantitative"},
            "x": {"datum": 4.2, "type": "quantitative"},
            "x2": {"datum": 7.0}
          }
        },
        {
          "data": {"name": "insetGridV"},
          "mark": {"type": "rule", "stroke": "#333333", "strokeWidth": 1.5},
          "encoding": {
            "x": {"field": "x", "type": "quantitative"},
            "y": {"datum": 0, "type": "quantitative"},
            "y2": {"datum": 0.16}
          }
        },
        {
          "data": {"name": "insetFrame"},
          "mark": {"type": "rect", "fill": null, "fillOpacity": 0, "stroke": "#444444", "strokeWidth": 1.5},
          "encoding": {
            "x": {"field": "x", "type": "quantitative"},
            "x2": {"field": "x2"},
            "y": {"field": "y", "type": "quantitative"},
            "y2": {"field": "y2"}
          }
        },
        {
          "data": {"name": "insetLabels"},
          "mark": {"type": "text", "font": "Liberation Serif", "fontSize": 15, "fill": "#666666", "align": "center", "baseline": "middle"},
          "encoding": {
            "x": {"field": "x", "type": "quantitative"},
            "y": {"datum": -0.45, "type": "quantitative"},
            "text": {"field": "t"}
          }
        },
        {
          "data": {"name": "insetDot"},
          "mark": {"type": "square", "filled": true, "fill": "#ee0000", "size": 30, "opacity": 1},
          "encoding": {
            "x": {"field": "x", "type": "quantitative"},
            "y": {"field": "y", "type": "quantitative"}
          }
        }
      ]
    }
  ],
  "resolve": {"scale": {"x": "independent", "y": "independent"}}
}
